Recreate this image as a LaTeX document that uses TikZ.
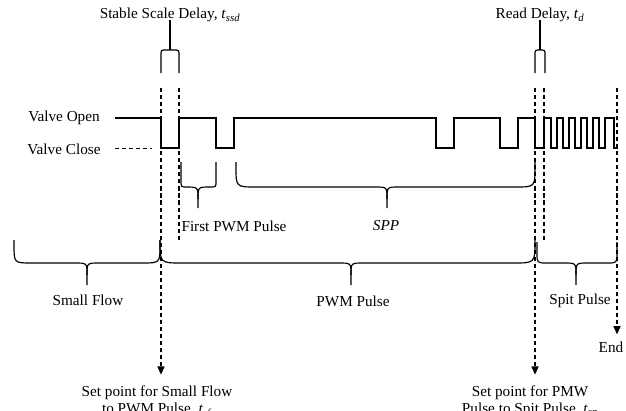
\documentclass[tikz,border=0pt]{standalone}
\usepackage{fontspec}
\setmainfont{Liberation Serif}
\usetikzlibrary{arrows.meta,positioning}
\tikzstyle{lbl}=[font=\fontsize{13}{15}\selectfont,inner sep=1pt]
\tikzstyle{signal}=[line width=2.2pt,line join=miter]
\tikzstyle{guide}=[line width=1.1pt,dash pattern=on 3.5pt off 2.5pt]
\tikzstyle{guidearrow}=[guide,-{Triangle[length=7pt,width=6pt]}]
\tikzstyle{bracket}=[line width=1pt]
% x1, x2, tip x, top y, level y, tip y, end radius
\newcommand{\timebrace}[7]{%
  \draw[bracket] (#1,#4) -- (#1,#5-#7) .. controls (#1,#5) .. (#1+#7,#5)
    -- (#3-12,#5) .. controls (#3,#5) .. (#3,#5+12) -- (#3,#6);
  \draw[bracket] (#2,#4) -- (#2,#5-#7) .. controls (#2,#5) .. (#2-#7,#5)
    -- (#3+12,#5) .. controls (#3,#5) .. (#3,#5+12);
}

\begin{document}
\begin{tikzpicture}[x=0.03cm,y=-0.03cm]
  \useasboundingbox (0,0) rectangle (626,410);

  % labels
  \node[lbl] (ssdLabel) at (170,15) {Stable Scale Delay, \textit{t}\textsubscript{\textit{ssd}}};
  \node[lbl] (readLabel) at (540,15) {Read Delay, \textit{t}\textsubscript{\textit{d}}};
  \node[lbl] (openLabel) at (64,118) {Valve Open};
  \node[lbl] (closeLabel) at (64,149) {Valve Close};
  \node[lbl] (firstLabel) at (234,226) {First PWM Pulse};
  \node[lbl] (sppLabel) at (386,226) {\textit{SPP}};
  \node[lbl] (smallLabel) at (88,300) {Small Flow};
  \node[lbl] (pwmLabel) at (353,301) {PWM Pulse};
  \node[lbl] (spitLabel) at (580,301) {Spit Pulse};
  \node[lbl] (endLabel) at (611,347) {End};
  \node[lbl,align=center,anchor=north] (setSmall) at (157,384)
    {Set point for Small Flow\\to PWM Pulse, \textit{t}\textsubscript{\textit{sf}}};
  \node[lbl,align=center,anchor=north] (setPmw) at (530,384)
    {Set point for PMW\\Pulse to Spit Pulse, \textit{t}\textsubscript{\textit{sp}}};

  % delay brackets
  \coordinate (ssdTop) at (170,50);
  \coordinate (readTop) at (540,50);
  \draw[bracket] (ssdLabel.south) ++(0,-3) -- (ssdTop);
  \draw[bracket,rounded corners=2pt] (161,73) -- (161,50) -- (179,50) -- (179,73);
  \draw[bracket] (readLabel.south) ++(0,-3) -- (readTop);
  \draw[bracket,rounded corners=2pt] (535,73) -- (535,50) -- (545,50) -- (545,73);

  % guide lines
  \coordinate (ssdA) at (161,88);
  \coordinate (ssdB) at (179,88);
  \coordinate (readA) at (535,88);
  \coordinate (readB) at (544,88);
  \coordinate (endA) at (617,88);
  \draw[guidearrow,shorten >=8pt] (ssdA) -- (ssdA |- setSmall.north);
  \draw[guide] (ssdB) -- (179,240);
  \draw[guidearrow,shorten >=8pt] (readA) -- (readA |- setPmw.north);
  \draw[guide] (readB) -- (544,240);
  \draw[guidearrow,shorten >=5pt] (endA) -- (endA |- endLabel.north);
  \draw[guide,line width=0.8pt] (115,148) -- (152,148);

  % valve signal
  \draw[signal] (115,118) -- (161,118) -- (161,148) -- (179,148) -- (179,118)
    -- (216,118) -- (216,148) -- (234,148) -- (234,118)
    -- (436,118) -- (436,148) -- (454,148) -- (454,118)
    -- (500,118) -- (500,148) -- (518,148) -- (518,118)
    -- (535,118) -- (535,148) -- (544,148) -- (544,118)
    \foreach \x in {551,563,575,587,599} { -- (\x,118) -- (\x,148) -- (\x+6,148) -- (\x+6,118) }
    -- (614,118) -- (614,148) -- (618,148);

  % braces
  \timebrace{181}{216}{198}{162}{187}{208}{6}
  \timebrace{236}{535}{387}{162}{187}{208}{20}
  \timebrace{14}{160}{87}{240}{263}{285}{18}
  \timebrace{160}{535}{351}{240}{263}{285}{22}
  \timebrace{537}{617}{576}{242}{263}{285}{10}
\end{tikzpicture}
\end{document}
